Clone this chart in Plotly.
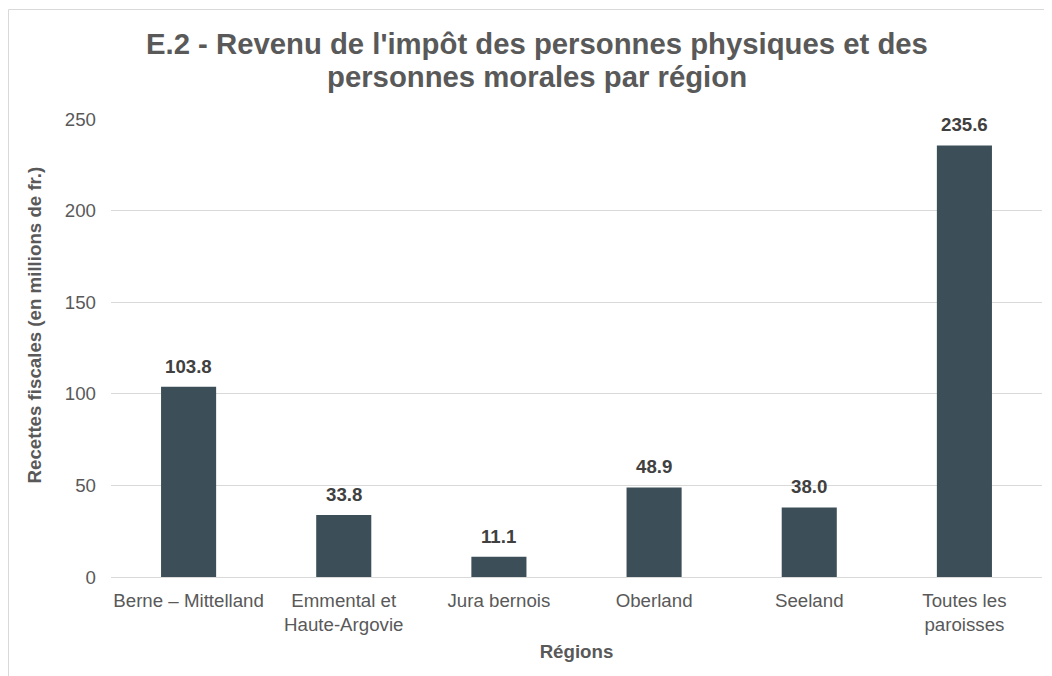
import plotly.graph_objects as go

categories = ["Berne – Mittelland", "Emmental et<br>Haute-Argovie", "Jura bernois",
              "Oberland", "Seeland", "Toutes les<br>paroisses"]
values = [103.8, 33.8, 11.1, 48.9, 38.0, 235.6]
y_ticks = [0, 50, 100, 150, 200, 250]
title_lines = ["<b>E.2 - Revenu de l'impôt des personnes physiques et des</b>",
               "<b>personnes morales par région</b>"]
y_title = "<b>Recettes fiscales (en millions de fr.)</b>"

FONT = "Arial, Liberation Sans, sans-serif"
W, H = 1052, 676
OFF = 8  # page body margin
L, R, T, B = 111 - OFF, 18, 119 - OFF, 107
pw, ph = W - L - R, H - T - B

def px_x(page_x):
    return (page_x - OFF - L) / pw

def px_y(page_y):
    return (H - B - (page_y - OFF)) / ph

fig = go.Figure()
fig.add_trace(go.Bar(
    x=categories, y=values,
    marker=dict(color="#3C4F59", line=dict(width=0)),
    hoverinfo="x+y",
))

for c, v in zip(categories, values):
    fig.add_annotation(x=c, y=v, text=f"<b>{v:.1f}</b>", showarrow=False,
                       yanchor="bottom", yshift=8,
                       font=dict(family=FONT, size=18.7, color="#404040"))

# chart border
fig.add_shape(type="rect", xref="paper", yref="paper",
              x0=(0.5 - L) / pw, x1=(W + 20 - L) / pw,
              y0=-(B + 40) / ph, y1=(ph + T - 1.5) / ph,
              line=dict(color="#D9D9D9", width=1), fillcolor="rgba(0,0,0,0)", layer="below")

TITLE_FONT = dict(family=FONT, size=29.3, color="#595959")
fig.add_annotation(text=title_lines[0], xref="paper", yref="paper", x=px_x(536.5), xanchor="center",
                   y=px_y(43.5), yanchor="middle", showarrow=False, font=TITLE_FONT)
fig.add_annotation(text=title_lines[1], xref="paper", yref="paper", x=px_x(536.5), xanchor="center",
                   y=px_y(76.5), yanchor="middle", showarrow=False, font=TITLE_FONT)

# y-axis title
fig.add_annotation(text=y_title, xref="paper", yref="paper", x=px_x(33.5), xanchor="center",
                   y=px_y(325), yanchor="middle", textangle=-90, showarrow=False,
                   font=dict(family=FONT, size=18.7, color="#595959"))

fig.update_layout(
    width=W, height=H,
    margin=dict(l=L, r=R, t=T, b=B, autoexpand=False),
    paper_bgcolor="white", plot_bgcolor="white",
    bargap=0.645,
    showlegend=False,
    font=dict(family=FONT, color="#595959"),
    xaxis=dict(
        showgrid=False, showline=False, ticks="", ticklabelstandoff=10,
        tickfont=dict(family=FONT, size=18.7, color="#595959"),
        title=dict(text="<b>Régions</b>", standoff=10,
                   font=dict(family=FONT, size=18.7, color="#595959")),
        automargin=False,
    ),
    yaxis=dict(
        range=[0, 250], tickvals=y_ticks,
        showgrid=True, gridcolor="#D9D9D9", gridwidth=1,
        zeroline=True, zerolinecolor="#D9D9D9", zerolinewidth=1,
        showline=False, ticks="", ticklabelstandoff=14,
        tickfont=dict(family=FONT, size=18.7, color="#595959"),
        automargin=False,
    ),
)

fig.write_html("out.html")
